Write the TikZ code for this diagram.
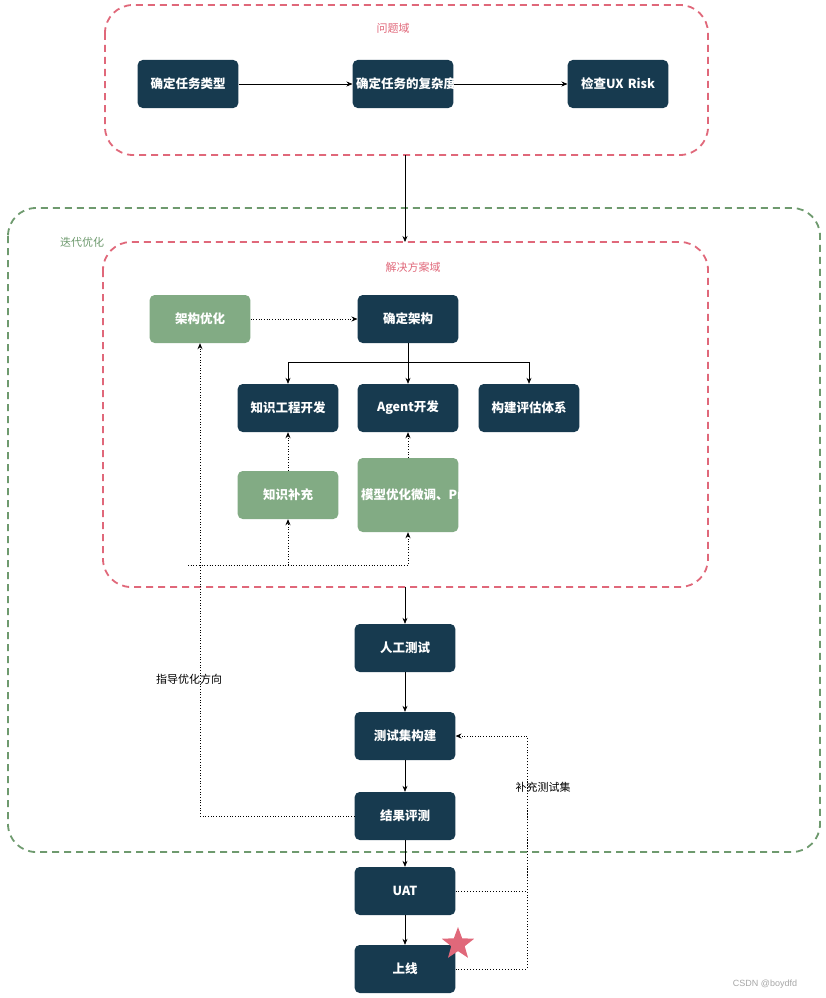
\documentclass[tikz,border=0pt]{standalone}
\usepackage{fontspec}
\setmainfont{Liberation Sans}
\newfontfamily\cjk{Noto Sans CJK SC}
\usetikzlibrary{arrows.meta,shapes.geometric}
\definecolor{navy}{HTML}{173A4F}
\definecolor{sg}{HTML}{82AB84}
\definecolor{rd}{HTML}{E0687A}
\definecolor{gd}{HTML}{6E9A6E}
\begin{document}
\begin{tikzpicture}[x=1pt,y=-1pt,font=\cjk\fontsize{11}{13}\selectfont,
 box/.style={rounded corners=5pt,fill=navy,text=white,minimum width=100pt,minimum height=48pt,align=center,text width=94pt,font=\cjk\fontsize{12.5}{15}\selectfont\bfseries},
 gbox/.style={box,fill=sg},
 frame/.style={dashed,line width=1.8pt,rounded corners=28pt,dash pattern=on 7pt off 5pt},
 ar/.style={-{Stealth[length=6pt,width=5pt]},line width=0.7pt},
 dar/.style={ar,dotted,line width=0.9pt}]
\useasboundingbox (0,0) rectangle (826,998);
\draw[frame,rd] (105,5) rectangle (708,155);
\node[text=rd] (t1) at (393,28) {问题域};
\draw[frame,gd] (8,208) rectangle (820,852);
\node[text=gd] (t2) at (82,242) {迭代优化};
\draw[frame,rd] (103,242) rectangle (708,587);
\node[text=rd] (t3) at (413,267) {解决方案域};
\node[box] (a1) at (188,84) {确定任务类型};
\node[box] (a2) at (403,84) {确定任务的复杂度};
\node[box] (a3) at (618,84) {检查UX Risk};
\node[gbox] (jg) at (200,319) {架构优化};
\node[box] (qd) at (408,319) {确定架构};
\node[box] (zs) at (288,408) {知识工程开发};
\node[box] (ag) at (408,408) {Agent开发};
\node[box] (pg) at (529,408) {构建评估体系};
\node[gbox] (bc) at (288,495) {知识补充};
\node[gbox,minimum height=74pt] (mx) at (408,495) {模型优化微调、Prompt调优};
\node[box] (rg) at (405,648) {人工测试};
\node[box] (cs) at (405,736) {测试集构建};
\node[box] (jp) at (405,816) {结果评测};
\node[box] (uat) at (405,891) {UAT};
\node[box] (sx) at (405,969) {上线};
\node[star,star points=5,star point ratio=2.4,fill=rd,minimum size=34pt,inner sep=0pt] (st) at (458,944) {};
\node[fill=white,inner sep=1pt] (l1) at (189,679) {指导优化方向};
\node[fill=white,inner sep=1pt] (l2) at (543,787) {补充测试集};
\coordinate (top) at (405,155);
\coordinate (mid) at (405,242);
\coordinate (bot) at (405,587);
\draw[ar] (a1) -- (a2);
\draw[ar] (a2) -- (a3);
\draw[ar] (top) -- (mid);
\draw[dar] (jg) -- (qd);
\draw[line width=0.7pt] (qd.south) -- (408,362) coordinate (br);
\draw[ar] (br) -| (zs.north);
\draw[ar] (br) -| (pg.north);
\draw[ar] (br) -- (ag.north);
\draw[dar] (bc) -- (zs);
\draw[dar] (mx) -- (ag);
\draw[ar] (bot) -- (rg);
\draw[ar] (rg) -- (cs);
\draw[ar] (cs) -- (jp);
\draw[ar] (jp) -- (uat);
\draw[ar] (uat) -- (sx);
\draw[dar] (jp.west) -| (jg.south);
\coordinate (h) at (188,565);
\draw[dar] (h) -| (bc.south);
\draw[dar] (h) -| (mx.south);
\draw[dotted,line width=0.9pt] (uat.east) -| (527,760);
\draw[dotted,line width=0.9pt] (sx.east) -| (527,736);
\draw[dar] (527,736) -- (cs.east);
\node[text=gray!70,font=\fontsize{9}{10}\selectfont] (wm) at (765,984) {CSDN @boydfd};
\end{tikzpicture}
\end{document}
